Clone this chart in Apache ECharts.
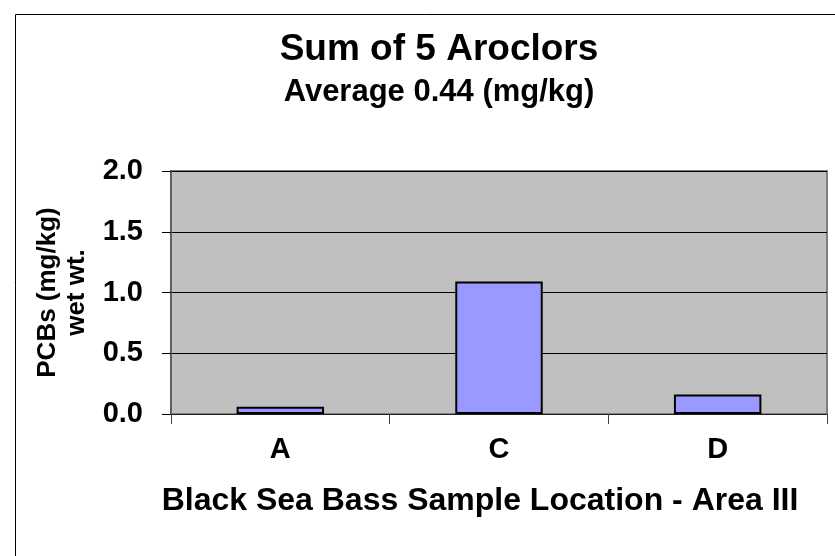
<!DOCTYPE html>
<html>
<head>
<meta charset="utf-8">
<script src="https://cdn.jsdelivr.net/npm/echarts@6/dist/echarts.min.js"></script>
<style>
html,body{margin:0;padding:0;background:#fff;}
#chart{width:835px;height:556px;}
</style>
</head>
<body>
<div id="chart"></div>
<script>
var categories = ['A', 'C', 'D'];
var values = [0.06, 1.09, 0.16];
var yTicks = [0, 0.5, 1.0, 1.5, 2.0];
var titleText = 'Sum of 5 Aroclors';
var subtitleText = 'Average 0.44 (mg/kg)';
var xTitle = 'Black Sea Bass Sample Location - Area III';
var yTitle = 'PCBs (mg/kg)\nwet wt.';

var FONT = '"Liberation Sans", Arial, Helvetica, sans-serif';
var chart = echarts.init(document.getElementById('chart'), null, {renderer: 'canvas'});
chart.setOption({
  backgroundColor: '#ffffff',
  animation: false,
  graphic: [
    {type: 'rect', shape: {x: 15.5, y: 14.5, width: 900, height: 600},
     style: {fill: 'none', stroke: '#000', lineWidth: 1}, silent: true, z: 0},
    {type: 'text', x: 439, y: 31,
     style: {text: titleText, font: 'bold 37px ' + FONT, fill: '#000', textAlign: 'center', textVerticalAlign: 'top'}},
    {type: 'text', x: 439, y: 77,
     style: {text: subtitleText, font: 'bold 31px ' + FONT, fill: '#000', textAlign: 'center', textVerticalAlign: 'top'}}
  ],
  grid: {
    left: 171, top: 171, right: 8, bottom: 142,
    show: true, backgroundColor: '#C0C0C0', borderColor: '#808080', borderWidth: 2
  },
  xAxis: {
    type: 'category',
    data: categories,
    name: xTitle,
    nameLocation: 'middle',
    nameGap: 71,
    nameTextStyle: {fontFamily: FONT, fontWeight: 'bold', fontSize: 32, color: '#000', padding: [0, 38, 0, 0], verticalAlign: 'top'},
    axisLine: {show: true, lineStyle: {color: '#202020', width: 1}},
    axisTick: {show: true, alignWithLabel: false, length: 10, lineStyle: {color: '#404040', width: 1}},
    axisLabel: {fontFamily: FONT, fontWeight: 'bold', fontSize: 29, color: '#000', margin: 21},
    splitLine: {show: false}
  },
  yAxis: {
    type: 'value',
    min: yTicks[0],
    max: yTicks[yTicks.length - 1],
    interval: 0.5,
    name: yTitle,
    nameLocation: 'middle',
    nameRotate: 90,
    nameGap: 78,
    nameTextStyle: {fontFamily: FONT, fontWeight: 'bold', fontSize: 26, lineHeight: 29, color: '#000'},
    axisLine: {show: true, lineStyle: {color: '#606060', width: 2}},
    axisTick: {show: true, length: 9, lineStyle: {color: '#000', width: 1}},
    axisLabel: {fontFamily: FONT, fontWeight: 'bold', fontSize: 29, color: '#000', margin: 28,
      formatter: function (v) { return v.toFixed(1); }},
    splitLine: {show: true, lineStyle: {color: '#000', width: 1}}
  },
  series: [{
    type: 'bar',
    data: values,
    barWidth: '40%',
    itemStyle: {color: '#9999FF', borderColor: '#000', borderWidth: 2}
  }]
});
</script>
</body>
</html>
